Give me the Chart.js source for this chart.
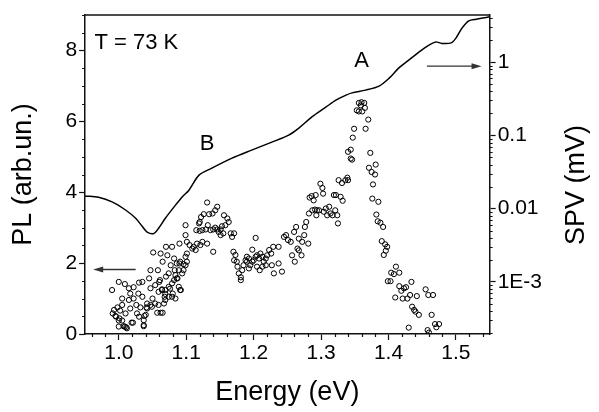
<!DOCTYPE html>
<html lang="en">
<head>
<meta charset="UTF-8">
<title>PL and SPV vs Energy</title>
<script src="https://cdn.jsdelivr.net/npm/chart.js"></script>
<style>
  body { margin: 0; background: #fff; }
  #wrap { width: 599px; height: 412px; }
</style>
</head>
<body>
<div id="wrap">
  <canvas id="myChart" width="599" height="412"></canvas>
</div>
<script>
// SPV spectrum (right axis, log)
const spvEnergy = [0.95, 0.970, 0.990, 1.010, 1.025, 1.035, 1.042, 1.052, 1.059, 1.069, 1.082, 1.094, 1.104, 1.119, 1.138, 1.168, 1.197, 1.227, 1.252, 1.267, 1.286, 1.307, 1.322, 1.337, 1.346, 1.366, 1.386, 1.401, 1.415, 1.430, 1.445, 1.460, 1.470, 1.479, 1.493, 1.500, 1.509, 1.519, 1.530, 1.545, 1.55];
const spvValue = [0.0149, 0.0143, 0.0124, 0.0096, 0.0074, 0.0057, 0.0048, 0.0046, 0.0054, 0.0074, 0.0106, 0.0145, 0.0179, 0.0287, 0.0358, 0.049, 0.063, 0.081, 0.101, 0.126, 0.178, 0.243, 0.303, 0.355, 0.381, 0.415, 0.471, 0.605, 0.828, 1.065, 1.37, 1.71, 1.89, 1.80, 1.83, 2.13, 2.91, 3.66, 3.86, 4.07, 4.15];

// PL points (left axis)
const plEnergy = [
  0.990, 1.000, 0.991, 0.995, 0.993, 0.998, 1.002, 1.000, 1.000, 1.009, 1.012, 1.005, 1.005, 1.009, 1.015, 1.022, 1.015, 1.017, 1.021, 1.010,
  1.030, 1.035, 1.032, 1.027, 1.030, 1.037, 1.037, 1.022, 1.026, 1.040, 1.041, 1.042, 1.035, 1.029, 1.017, 1.045, 1.047, 1.051, 1.062, 1.070,
  1.079, 1.072, 1.065, 1.077, 1.082, 1.058, 1.061, 1.054, 1.047, 1.050, 1.059, 1.054, 1.059, 1.064, 1.069, 1.068, 1.074, 1.065, 1.057, 1.070,
  1.074, 1.079, 1.082, 1.084, 1.087, 1.089, 1.083, 1.089, 1.092, 1.080, 1.074, 1.084, 1.090, 0.996, 1.001, 1.005, 1.007, 1.011, 1.019, 1.037,
  1.038, 1.042, 1.047, 1.049, 1.062, 1.067, 1.069, 1.060, 1.064, 1.069, 1.076, 1.079, 1.091, 1.086, 1.094, 1.091, 1.086, 1.096, 1.090,
  1.131, 1.146, 1.143, 1.139, 1.134, 1.126, 1.122, 1.120, 1.119, 1.156, 1.161, 1.163, 1.158, 1.153, 1.151, 1.148, 1.146, 1.143, 1.140, 1.136,
  1.132, 1.129, 1.124, 1.120, 1.115, 1.166, 1.171, 1.168, 1.155, 1.151, 1.140, 1.131, 1.124, 1.121, 1.116, 1.111, 1.114, 1.109, 1.105, 1.101,
  1.099, 1.099, 1.101, 1.099, 1.101, 1.099, 1.096, 1.170, 1.173, 1.171, 1.175, 1.176, 1.178, 1.181, 1.183, 1.185, 1.188, 1.190, 1.193, 1.195,
  1.198, 1.200, 1.203, 1.205, 1.208, 1.210, 1.213, 1.215, 1.218, 1.220, 1.223, 1.226, 1.229, 1.203, 1.198, 1.205, 1.209, 1.213, 1.218, 1.227,
  1.230, 1.181, 1.193, 1.190,
  1.237, 1.242, 1.237, 1.245, 1.248, 1.251, 1.255, 1.257, 1.261, 1.265, 1.267, 1.271, 1.272, 1.267, 1.260, 1.263, 1.275, 1.276, 1.278, 1.281,
  1.282, 1.283, 1.286, 1.289, 1.292, 1.287, 1.291, 1.294, 1.293, 1.299, 1.302, 1.303, 1.297, 1.304, 1.307, 1.309, 1.312, 1.314, 1.317, 1.319,
  1.322, 1.321, 1.324, 1.325, 1.329, 1.332, 1.326, 1.331, 1.336, 1.339, 1.340,
  1.356, 1.360, 1.364, 1.359, 1.353, 1.356, 1.361, 1.365, 1.370, 1.366, 1.349, 1.347, 1.340, 1.344, 1.344, 1.346, 1.373, 1.381, 1.371, 1.375,
  1.380, 1.377, 1.376, 1.385, 1.382, 1.384, 1.388, 1.392, 1.390, 1.395, 1.398, 1.396, 1.393, 1.399, 1.403, 1.404, 1.408, 1.411, 1.416, 1.416,
  1.419, 1.423, 1.426, 1.410, 1.421, 1.428, 1.432, 1.434, 1.442, 1.435, 1.438, 1.440, 1.445, 1.430, 1.455, 1.459, 1.466, 1.464, 1.469, 1.471,
  1.475, 1.458, 1.460
];
const plValue = [
  1.24, 1.47, 0.58, 0.51, 0.68, 0.75, 0.66, 0.38, 0.21, 0.21, 0.16, 0.82, 1.00, 1.41, 1.29, 1.32, 0.96, 0.72, 0.32, 0.58,
  1.45, 1.47, 0.75, 0.58, 0.49, 0.39, 0.22, 1.00, 0.82, 0.54, 0.75, 0.86, 1.05, 1.14, 1.14, 1.57, 1.80, 2.30, 2.27, 2.46,
  2.46, 2.22, 2.04, 1.94, 2.13, 1.80, 1.52, 1.38, 1.29, 1.00, 1.19, 0.86, 0.82, 1.26, 1.24, 1.05, 1.33, 0.60, 0.60, 1.62,
  1.71, 1.43, 1.52, 1.66, 1.57, 1.80, 1.80, 1.33, 1.24, 1.14, 1.05, 1.00, 1.99, 0.49, 0.44, 0.38, 0.22, 0.19, 0.32, 0.25,
  0.51, 0.72, 0.82, 0.77, 0.60, 0.86, 0.96, 1.47, 1.24, 1.13, 1.28, 1.05, 1.24, 1.57, 1.71, 2.04, 1.99, 1.97, 2.55,
  3.71, 3.59, 3.49, 3.40, 3.38, 3.38, 3.30, 3.16, 3.12, 3.35, 3.26, 3.16, 3.07, 3.04, 2.95, 2.88, 2.95, 3.00, 2.95, 2.93,
  3.07, 2.95, 2.93, 2.91, 2.93, 2.84, 2.84, 2.74, 2.84, 2.79, 2.32, 2.55, 2.60, 2.51, 2.55, 2.46, 2.37, 2.41, 2.51, 2.60,
  3.07, 2.79, 2.27, 2.18, 2.04, 1.94, 1.80, 2.32, 2.23, 2.08, 2.04, 1.90, 1.71, 1.60, 1.80, 1.94, 2.08, 2.04, 2.13, 1.94,
  2.04, 2.08, 2.18, 2.22, 2.13, 2.27, 2.18, 2.04, 2.13, 2.22, 2.37, 2.27, 2.46, 2.71, 2.38, 1.90, 1.80, 1.90, 1.94, 1.94,
  1.71, 1.52, 1.85, 2.18,
  2.46, 1.76, 1.99, 2.74, 2.79, 2.65, 2.60, 2.22, 2.04, 2.41, 2.36, 2.22, 2.60, 2.69, 2.88, 3.02, 2.79, 3.02, 3.16, 2.55,
  3.40, 3.85, 3.89, 3.77, 3.92, 3.49, 3.51, 3.49, 3.35, 4.24, 4.12, 3.96, 3.49, 3.45, 3.54, 3.35, 3.59, 3.40, 3.35, 3.92,
  3.92, 3.49, 3.35, 3.12, 3.87, 3.76, 4.34, 4.26, 4.34, 4.41, 4.34,
  6.52, 6.54, 6.52, 6.45, 6.31, 6.28, 6.28, 6.38, 6.05, 5.79, 5.79, 5.54, 5.14, 5.20, 4.95, 4.92, 5.11, 4.78, 4.69, 4.57,
  4.50, 4.22, 3.82, 3.73, 3.37, 3.18, 3.14, 3.02, 2.62, 2.53, 2.46, 2.35, 2.23, 1.49, 1.49, 1.73, 1.69, 1.90, 1.73, 1.35,
  1.22, 1.29, 1.32, 1.03, 1.00, 1.00, 1.10, 1.47, 1.07, 0.77, 0.68, 0.63, 0.54, 0.18, 1.26, 1.10, 1.10, 0.54, 0.28, 0.19,
  0.28, 0.11, 0.04
];

// tick labels (major ticks)
const xLabels = [1.0, 1.1, 1.2, 1.3, 1.4, 1.5];
const plLabels = [0, 2, 4, 6, 8];
const spvLabels = [0.001, 0.01, 0.1, 1];
const spvLabelText = ['1E-3', '0.01', '0.1', '1'];

const FONT = '"Liberation Sans", Arial, sans-serif';
Chart.defaults.font.family = FONT;
Chart.defaults.color = '#000';

const plPoints = plEnergy.map((e, i) => ({x: e, y: plValue[i]}));
const spvPoints = spvEnergy.map((e, i) => ({x: e, y: spvValue[i]}));

// minor tick positions
const xMinor = [], plMinor = [], spvMinor = [];
for (let v = 96; v <= 154; v += 2) if (v % 10 !== 0) xMinor.push(v / 100);
for (let v = 1; v <= 18; v++) if (v % 4 !== 0) plMinor.push(v / 2);
for (let e = -4; e <= 0; e++) for (let m = 2; m <= 9; m++) spvMinor.push(m * Math.pow(10, e));

function arrow(ctx, x1, y1, x2, y2) {
  const dir = Math.sign(x2 - x1);
  ctx.beginPath();
  ctx.moveTo(x1, y1);
  ctx.lineTo(x2 - dir * 8, y2);
  ctx.stroke();
  ctx.beginPath();
  ctx.moveTo(x2, y2);
  ctx.lineTo(x2 - dir * 10, y2 - 3);
  ctx.lineTo(x2 - dir * 10, y2 + 3);
  ctx.closePath();
  ctx.fill();
}

// frame top line, minor ticks, labels, arrows, right axis title
const extras = {
  id: 'extras',
  afterDraw(chart) {
    const ctx = chart.ctx;
    const a = chart.chartArea;
    const xs = chart.scales.x, yl = chart.scales.y, yr = chart.scales.y2;
    ctx.save();
    ctx.strokeStyle = '#111';
    ctx.lineWidth = 1.5;
    ctx.beginPath();
    ctx.moveTo(a.left, a.top);
    ctx.lineTo(a.right, a.top);
    ctx.stroke();

    ctx.lineWidth = 1.2;
    ctx.beginPath();
    xMinor.forEach(v => {
      const p = Math.round(xs.getPixelForValue(v)) + 0.5;
      ctx.moveTo(p, a.bottom); ctx.lineTo(p, a.bottom + 3);
    });
    plMinor.forEach(v => {
      const p = Math.round(yl.getPixelForValue(v)) + 0.5;
      ctx.moveTo(a.left, p); ctx.lineTo(a.left - 3, p);
    });
    spvMinor.forEach(v => {
      if (v < yr.min || v > yr.max) return;
      const p = Math.round(yr.getPixelForValue(v)) + 0.5;
      ctx.moveTo(a.right, p); ctx.lineTo(a.right + 3, p);
    });
    ctx.stroke();

    ctx.fillStyle = '#000';
    ctx.font = '22px ' + FONT;
    ctx.textAlign = 'left';
    ctx.textBaseline = 'alphabetic';
    ctx.fillText('T = 73 K', xs.getPixelForValue(0.964), yl.getPixelForValue(8.05));
    ctx.textAlign = 'center';
    ctx.textBaseline = 'middle';
    ctx.fillText('B', xs.getPixelForValue(1.131), yl.getPixelForValue(5.37));
    ctx.fillText('A', xs.getPixelForValue(1.36), yl.getPixelForValue(7.70));

    ctx.strokeStyle = '#333';
    ctx.fillStyle = '#333';
    ctx.lineWidth = 1.3;
    const ly = yl.getPixelForValue(1.82);
    arrow(ctx, xs.getPixelForValue(1.025), ly, xs.getPixelForValue(0.962), ly);
    const ry = yr.getPixelForValue(0.88);
    arrow(ctx, xs.getPixelForValue(1.457), ry, xs.getPixelForValue(1.538), ry);

    ctx.fillStyle = '#000';
    ctx.font = '27px ' + FONT;
    ctx.translate(chart.width - 22, 185);
    ctx.rotate(-Math.PI / 2);
    ctx.textAlign = 'center';
    ctx.textBaseline = 'middle';
    ctx.fillText('SPV (mV)', 0, 0);
    ctx.restore();
  }
};

const axisGrid = {drawOnChartArea: false, drawTicks: true, tickLength: 6, color: '#111', tickWidth: 1.2};
const axisBorder = {display: true, color: '#111', width: 1.5};

new Chart(document.getElementById('myChart'), {
  type: 'scatter',
  data: {
    datasets: [{
      label: 'PL',
      data: plPoints,
      yAxisID: 'y',
      pointStyle: 'circle',
      pointRadius: 2.6,
      borderWidth: 1,
      borderColor: '#000',
      backgroundColor: 'rgba(0,0,0,0)'
    }, {
      label: 'SPV',
      data: spvPoints,
      yAxisID: 'y2',
      showLine: true,
      pointRadius: 0,
      borderWidth: 1.5,
      borderColor: '#000',
      tension: 0.3
    }]
  },
  options: {
    responsive: false,
    animation: false,
    devicePixelRatio: 1,
    layout: {padding: {left: 4, right: 55, top: 15, bottom: 0}},
    plugins: {legend: {display: false}, tooltip: {enabled: false}},
    scales: {
      x: {
        type: 'linear',
        position: 'bottom',
        min: 0.95,
        max: 1.55,
        afterBuildTicks: axis => { axis.ticks = xLabels.map(v => ({value: v})); },
        ticks: {
          autoSkip: false, maxRotation: 0, minRotation: 0, padding: 1,
          font: {size: 21}, color: '#000',
          callback: v => v.toFixed(1)
        },
        grid: axisGrid,
        border: axisBorder,
        title: {display: true, text: 'Energy (eV)', font: {size: 27}, color: '#000', padding: {top: 9.6, bottom: 2.8}}
      },
      y: {
        type: 'linear',
        position: 'left',
        min: 0,
        max: 9,
        afterBuildTicks: axis => { axis.ticks = plLabels.map(v => ({value: v})); },
        ticks: {
          autoSkip: false, padding: 2,
          font: {size: 21}, color: '#000',
          callback: v => String(v)
        },
        grid: axisGrid,
        border: axisBorder,
        title: {display: true, text: 'PL (arb.un.)', font: {size: 27}, color: '#000', padding: {top: 3, bottom: 24}}
      },
      y2: {
        type: 'logarithmic',
        position: 'right',
        min: 1.95e-4,
        max: 4.4,
        afterBuildTicks: axis => { axis.ticks = spvLabels.map(v => ({value: v})); },
        ticks: {
          autoSkip: false, padding: 2,
          font: {size: 21}, color: '#000',
          callback: (v, i) => spvLabelText[i]
        },
        grid: axisGrid,
        border: axisBorder
      }
    }
  },
  plugins: [extras]
});
</script>
</body>
</html>
